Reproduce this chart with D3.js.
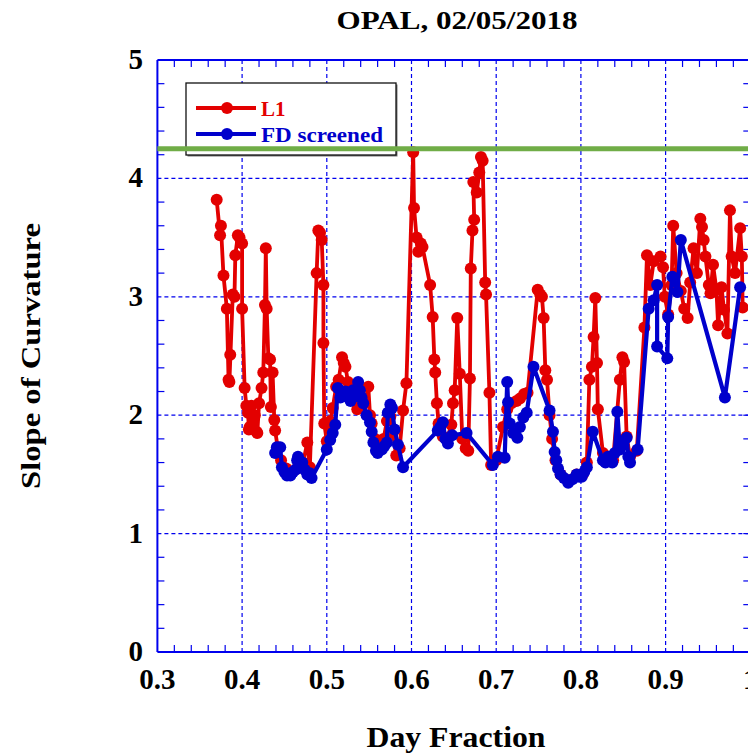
<!DOCTYPE html>
<html>
<head>
<meta charset="utf-8">
<script src="https://cdn.jsdelivr.net/npm/d3@7"></script>
<style>
  html, body { margin: 0; padding: 0; background: #fff; overflow: hidden; }
  svg { display: block; }
  text { font-family: "Liberation Serif", "Times New Roman", serif; font-weight: bold; }
</style>
</head>
<body>
<svg id="chart" width="748" height="754"></svg>
<script>
// L1 slope-of-curvature samples (day fraction, slope)
const l1Day = [
  0.370,0.374,0.375,0.378,0.382,0.384,0.386,0.385,0.389,0.391,0.392,0.395,0.397,0.400,0.400,0.403,
  0.405,0.407,0.408,0.409,0.411,0.413,0.415,0.417,0.418,0.420,0.423,0.425,0.427,0.428,0.429,0.431,
  0.433,0.434,0.436,0.438,0.439,0.442,0.446,0.452,0.458,0.465,0.472,0.477,0.480,0.488,0.490,0.492,
  0.494,0.496,0.496,0.497,0.500,0.504,0.507,0.511,0.514,0.518,0.520,0.522,0.525,0.528,0.532,0.536,
  0.540,0.545,0.549,0.551,0.553,0.557,0.562,0.567,0.571,0.575,0.578,0.582,0.586,0.590,0.594,0.602,
  0.603,0.606,0.608,0.611,0.613,0.622,0.625,0.627,0.628,0.630,0.632,0.637,0.642,0.647,0.649,0.651,
  0.654,0.657,0.660,0.664,0.667,0.669,0.670,0.672,0.674,0.673,0.677,0.680,0.682,0.684,0.687,0.688,
  0.692,0.694,0.700,0.708,0.713,0.718,0.724,0.728,0.733,0.737,0.749,0.752,0.754,0.756,0.758,0.760,
  0.763,0.766,0.770,0.776,0.785,0.795,0.802,0.807,0.810,0.813,0.815,0.817,0.819,0.820,0.826,0.832,
  0.838,0.846,0.849,0.851,0.854,0.858,0.866,0.875,0.878,0.882,0.886,0.894,0.897,0.899,0.903,0.907,
  0.909,0.913,0.918,0.922,0.926,0.929,0.933,0.937,0.941,0.943,0.945,0.947,0.951,0.953,0.956,0.960,
  0.962,0.966,0.969,0.973,0.976,0.978,0.982,0.988,0.990,0.991
];
const l1Slope = [
  3.82,3.52,3.60,3.18,2.90,2.30,2.51,2.28,3.02,3.00,3.35,3.52,3.50,3.45,2.90,2.23,
  2.08,2.02,1.88,1.90,2.08,1.92,2.00,1.86,1.85,2.10,2.23,2.36,2.93,3.41,2.90,2.48,
  2.47,2.07,2.36,1.96,1.87,1.73,1.62,1.55,1.52,1.55,1.60,1.77,1.56,3.20,3.56,3.54,
  3.48,3.10,2.61,1.93,1.78,1.95,2.06,2.24,2.30,2.49,2.44,2.41,2.28,2.15,2.20,2.05,
  2.12,2.10,2.24,2.00,1.93,1.80,1.75,1.80,1.95,1.99,1.85,1.66,1.72,2.04,2.27,4.22,
  3.75,3.50,3.38,3.45,3.42,3.10,2.83,2.47,2.36,2.10,1.93,1.82,1.80,1.92,2.10,2.21,
  2.82,2.35,1.80,1.72,1.70,2.31,3.24,3.56,3.65,3.97,3.88,4.05,4.18,4.15,3.12,3.02,
  2.19,1.58,1.62,1.90,2.05,2.10,2.12,2.14,2.18,2.19,3.06,3.02,3.00,2.82,2.38,2.30,
  2.00,1.80,1.62,1.50,1.45,1.50,1.50,1.60,2.30,2.41,2.66,2.99,2.44,2.05,1.68,1.65,
  1.62,2.30,2.49,2.45,1.82,1.65,1.70,2.74,3.35,3.10,3.30,3.34,3.25,3.00,2.85,3.10,
  3.60,3.20,3.05,2.90,2.82,3.12,3.41,3.20,3.66,3.59,3.48,3.34,3.10,3.03,3.27,3.06,
  2.76,3.08,2.89,2.69,3.73,3.34,3.20,3.58,3.34,2.91
];

// FD screened samples (day fraction, slope)
const fdDay = [
  0.439,0.441,0.445,0.447,0.450,0.453,0.457,0.460,0.463,0.465,0.466,0.469,0.471,0.474,0.477,0.480,
  0.482,0.500,0.504,0.507,0.510,0.513,0.516,0.519,0.522,0.525,0.528,0.531,0.534,0.537,0.539,0.541,
  0.543,0.547,0.551,0.553,0.555,0.558,0.560,0.565,0.568,0.571,0.572,0.575,0.577,0.580,0.584,0.590,
  0.631,0.634,0.637,0.640,0.643,0.648,0.665,0.696,0.702,0.710,0.713,0.714,0.716,0.720,0.725,0.728,
  0.732,0.736,0.744,0.763,0.767,0.769,0.771,0.773,0.776,0.780,0.785,0.790,0.795,0.798,0.801,0.804,
  0.807,0.814,0.826,0.829,0.832,0.835,0.837,0.840,0.843,0.846,0.850,0.854,0.856,0.858,0.867,0.880,
  0.886,0.890,0.890,0.902,0.903,0.908,0.914,0.918,0.970,0.988
];
const fdSlope = [
  1.68,1.73,1.73,1.56,1.52,1.49,1.49,1.52,1.54,1.62,1.65,1.58,1.60,1.54,1.50,1.51,
  1.47,1.71,1.79,1.85,1.92,2.23,2.15,2.16,2.20,2.19,2.12,2.21,2.16,2.28,2.21,2.15,
  2.10,2.00,1.94,1.86,1.77,1.70,1.68,1.71,1.74,1.77,2.02,2.09,2.06,1.88,1.75,1.56,
  1.87,1.90,1.94,1.80,1.76,1.83,1.85,1.58,1.65,1.64,2.28,2.11,1.93,1.85,1.81,1.90,
  1.98,2.02,2.41,2.04,1.86,1.69,1.62,1.55,1.50,1.47,1.43,1.46,1.50,1.48,1.48,1.52,
  1.56,1.86,1.62,1.60,1.65,1.63,1.60,1.68,2.03,1.71,1.75,1.81,1.65,1.60,1.71,2.90,
  2.97,3.10,2.58,2.48,2.83,3.17,3.04,3.48,2.15,3.08
];

// Reference threshold level
const thresholdLevel = 4.25;

// Axis tick values and labels
const xMajorTicks = [0.3, 0.4, 0.5, 0.6, 0.7, 0.8, 0.9, 1.0];
const xTickLabels = ["0.3", "0.4", "0.5", "0.6", "0.7", "0.8", "0.9", "1"];
const yMajorTicks = [0, 1, 2, 3, 4, 5];
const yTickLabels = ["0", "1", "2", "3", "4", "5"];

const seriesNames = ["L1", "FD screened"];

const RED = "#e30000";
const BLUE = "#0000cc";
const AXIS_BLUE = "#0000ee";
const GREEN = "#70ad47";

const svg = d3.select("#chart");

const x = d3.scaleLinear().domain([0.3, 1.0]).range([157.4, 750.3]);
const y = d3.scaleLinear().domain([0, 5]).range([652, 60]);

const [x0, x1] = x.range();
const [yb, yt] = y.range();

// Dashed major gridlines
const grid = svg.append("g").attr("stroke", AXIS_BLUE).attr("stroke-width", 1.2)
  .attr("stroke-dasharray", "4,3");
grid.selectAll("line.v").data(xMajorTicks.slice(1)).join("line")
  .attr("class", "v")
  .attr("x1", d => x(d)).attr("x2", d => x(d))
  .attr("y1", yt).attr("y2", yb);
grid.selectAll("line.h").data(yMajorTicks.slice(1, -1)).join("line")
  .attr("class", "h")
  .attr("x1", x0).attr("x2", x1)
  .attr("y1", d => y(d)).attr("y2", d => y(d));

// Inward minor ticks on all four sides
const tickLen = 7;
const xMinor = d3.range(0.32, 1.0, 0.02).filter(v => Math.abs(v * 10 - Math.round(v * 10)) > 1e-6);
const yMinor = d3.range(0.2, 5.0, 0.2).filter(v => Math.abs(v - Math.round(v)) > 1e-6);
const ticks = svg.append("g").attr("stroke", AXIS_BLUE).attr("stroke-width", 1.2);
ticks.selectAll("line.xb").data(xMinor).join("line").attr("class", "xb")
  .attr("x1", d => x(d)).attr("x2", d => x(d)).attr("y1", yb).attr("y2", yb - tickLen);
ticks.selectAll("line.xt").data(xMinor).join("line").attr("class", "xt")
  .attr("x1", d => x(d)).attr("x2", d => x(d)).attr("y1", yt).attr("y2", yt + tickLen);
ticks.selectAll("line.yl").data(yMinor).join("line").attr("class", "yl")
  .attr("x1", x0).attr("x2", x0 + tickLen).attr("y1", d => y(d)).attr("y2", d => y(d));
ticks.selectAll("line.yr").data(yMinor.concat(yMajorTicks.slice(1, -1))).join("line").attr("class", "yr")
  .attr("x1", x1).attr("x2", x1 - tickLen).attr("y1", d => y(d)).attr("y2", d => y(d));

// Frame
const frame = svg.append("g").attr("stroke", AXIS_BLUE).attr("stroke-width", 2).attr("fill", "none");
frame.append("line").attr("x1", x0).attr("x2", x1).attr("y1", yb).attr("y2", yb);
frame.append("line").attr("x1", x0).attr("x2", x1).attr("y1", yt).attr("y2", yt);
frame.append("line").attr("x1", x0).attr("x2", x0).attr("y1", yt).attr("y2", yb);
frame.append("line").attr("x1", x1).attr("x2", x1).attr("y1", yt).attr("y2", yb);

// Tick labels
svg.append("g").selectAll("text").data(xMajorTicks).join("text")
  .attr("x", d => x(d)).attr("y", 689)
  .attr("text-anchor", "middle").attr("font-size", 29)
  .text((d, i) => xTickLabels[i]);
svg.append("g").selectAll("text").data(yMajorTicks).join("text")
  .attr("x", 143).attr("y", d => y(d) + 9)
  .attr("text-anchor", "end").attr("font-size", 29)
  .text((d, i) => yTickLabels[i]);

// Titles
svg.append("text").attr("x", 457).attr("y", 29).attr("text-anchor", "middle")
  .attr("font-size", 25).attr("textLength", 241).attr("lengthAdjust", "spacingAndGlyphs")
  .text("OPAL, 02/05/2018");
svg.append("text").attr("x", 456).attr("y", 747).attr("text-anchor", "middle")
  .attr("font-size", 29).attr("textLength", 179).attr("lengthAdjust", "spacingAndGlyphs")
  .text("Day Fraction");
svg.append("text").attr("transform", "translate(40,356) rotate(-90)").attr("text-anchor", "middle")
  .attr("font-size", 28).attr("textLength", 266).attr("lengthAdjust", "spacingAndGlyphs")
  .text("Slope of Curvature");

// Series
const line = d3.line().x(d => x(d[0])).y(d => y(d[1]));
const l1Pts = l1Day.map((d, i) => [d, l1Slope[i]]);
const fdPts = fdDay.map((d, i) => [d, fdSlope[i]]);
const markerR = 6;

function drawSeries(pts, color, width) {
  const g = svg.append("g");
  g.append("path").datum(pts).attr("d", line)
    .attr("fill", "none").attr("stroke", color).attr("stroke-width", width)
    .attr("stroke-linejoin", "round");
  g.selectAll("circle").data(pts).join("circle")
    .attr("cx", d => x(d[0])).attr("cy", d => y(d[1])).attr("r", markerR)
    .attr("fill", color);
}

// Legend box (white fill hides the grid behind it)
const lg = svg.append("g");
lg.append("rect").attr("x", 187.5).attr("y", 84.5).attr("width", 210).attr("height", 72)
  .attr("fill", "#777");
lg.append("rect").attr("x", 186).attr("y", 83).attr("width", 210).attr("height", 72)
  .attr("fill", "#fff").attr("stroke", "#111").attr("stroke-width", 1.3);

drawSeries(l1Pts, RED, 3.8);
drawSeries(fdPts, BLUE, 4.2);

const legendRows = [
  { name: seriesNames[0], color: RED, y: 108 },
  { name: seriesNames[1], color: BLUE, y: 134 }
];
legendRows.forEach(r => {
  lg.append("line").attr("x1", 196).attr("x2", 256).attr("y1", r.y).attr("y2", r.y)
    .attr("stroke", r.color).attr("stroke-width", 3.8);
  lg.append("circle").attr("cx", 227).attr("cy", r.y).attr("r", markerR).attr("fill", r.color);
});
lg.raise();
lg.append("text").attr("x", 261).attr("y", 116).attr("fill", RED).attr("font-size", 21).text(seriesNames[0]);
lg.append("text").attr("x", 261).attr("y", 142).attr("fill", BLUE).attr("font-size", 21)
  .attr("textLength", 122).attr("lengthAdjust", "spacingAndGlyphs").text(seriesNames[1]);

// Threshold line
svg.append("line").attr("x1", x0).attr("x2", x1)
  .attr("y1", y(thresholdLevel)).attr("y2", y(thresholdLevel))
  .attr("stroke", GREEN).attr("stroke-width", 5);
</script>
</body>
</html>
